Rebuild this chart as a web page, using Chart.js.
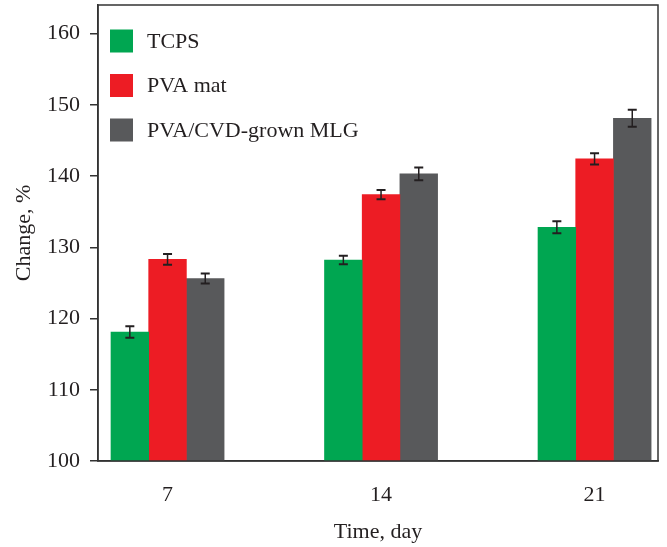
<!DOCTYPE html>
<html>
<head>
<meta charset="utf-8">
<script src="https://cdn.jsdelivr.net/npm/chart.js@4"></script>
<style>
  html, body { margin: 0; padding: 0; background: #fff; }
  #wrap { width: 667px; height: 547px; }
</style>
</head>
<body>
<div id="wrap"><canvas id="chart" width="667" height="547"></canvas></div>
<script>
// values
const days = [7, 14, 21];
const tcps = [118.1, 128.2, 132.8];
const tcpsErr = [0.8, 0.6, 0.85];
const pvaMat = [128.3, 137.4, 142.4];
const pvaMatErr = [0.75, 0.65, 0.8];
const mlg = [125.6, 140.3, 148.1];
const mlgErr = [0.7, 0.9, 1.2];
const yTicks = [100, 110, 120, 130, 140, 150, 160];

const FONT = "'Liberation Serif', 'DejaVu Serif', serif";
const INK = '#231f20';

function pts(vals) {
    return vals.map((v, i) => ({ x: days[i], y: v }));
}

// drop the half-label padding chart.js adds at the axis ends
function noEndPad(s) {
    s.paddingTop = 0; s.paddingBottom = 0;
    s.paddingLeft = 0; s.paddingRight = 0;
}

// error bars + frame + legend drawn on top
const extras = {
    id: 'extras',
    afterDatasetsDraw(chart) {
        const ctx = chart.ctx;
        const ys = chart.scales.y;
        ctx.save();
        ctx.strokeStyle = INK;
        chart.data.datasets.forEach((ds, i) => {
            const meta = chart.getDatasetMeta(i);
            meta.data.forEach((bar, j) => {
                const v = ds.data[j].y, e = ds.err[j];
                const x = bar.x;
                const y1 = ys.getPixelForValue(v + e), y2 = ys.getPixelForValue(v - e);
                ctx.lineWidth = 1.5;
                ctx.beginPath(); ctx.moveTo(x, y1); ctx.lineTo(x, y2); ctx.stroke();
                ctx.lineWidth = 2;
                ctx.beginPath();
                ctx.moveTo(x - 4.5, y1); ctx.lineTo(x + 4.5, y1);
                ctx.moveTo(x - 4.5, y2); ctx.lineTo(x + 4.5, y2);
                ctx.stroke();
            });
        });
        // box frame
        const a = chart.chartArea;
        ctx.strokeStyle = '#333';
        ctx.lineWidth = 1.5;
        ctx.strokeRect(a.left, a.top, a.right - a.left, a.bottom - a.top);
        // legend
        ctx.font = '22px ' + FONT;
        ctx.textBaseline = 'middle';
        chart.data.datasets.forEach((ds, i) => {
            const cy = 41 + i * 44.5;
            ctx.fillStyle = ds.backgroundColor;
            ctx.fillRect(110, cy - 11.5, 23, 23);
            ctx.fillStyle = INK;
            ctx.fillText(ds.label, 147, cy + 1);
        });
        ctx.restore();
    }
};

new Chart(document.getElementById('chart'), {
    type: 'bar',
    data: {
        datasets: [
            { label: 'TCPS', data: pts(tcps), err: tcpsErr, backgroundColor: '#00a651' },
            { label: 'PVA mat', data: pts(pvaMat), err: pvaMatErr, backgroundColor: '#ed1c24' },
            { label: 'PVA/CVD-grown MLG', data: pts(mlg), err: mlgErr, backgroundColor: '#58595b' }
        ]
    },
    options: {
        responsive: false,
        animation: false,
        barThickness: 37.7,
        layout: { padding: { top: 5, right: 9, left: 0, bottom: 0 } },
        plugins: { legend: { display: false }, tooltip: { enabled: false } },
        scales: {
            x: {
                type: 'linear',
                offset: false,
                min: 4.72,
                max: 23.08,
                afterBuildTicks: (s) => { s.ticks = days.map(d => ({ value: d })); },
                afterFit: (s) => { s.height = 86; noEndPad(s); },
                grid: { display: false, drawTicks: false },
                border: { display: true, color: '#333', width: 1.5 },
                ticks: { color: INK, font: { family: FONT, size: 22 }, padding: 21 },
                title: { display: true, text: 'Time, day', color: INK, font: { family: FONT, size: 22 }, padding: { top: 0, bottom: 2 } }
            },
            y: {
                min: 100,
                max: 164,
                afterBuildTicks: (s) => { s.ticks = yTicks.map(v => ({ value: v })); },
                afterFit: (s) => { s.width = 98; noEndPad(s); },
                grid: { drawOnChartArea: false, drawTicks: true, tickLength: 8, color: '#333', lineWidth: 1.5 },
                border: { display: true, color: '#333', width: 1.5 },
                ticks: { color: INK, font: { family: FONT, size: 22 }, padding: 10 },
                title: { display: true, text: 'Change, %', color: INK, font: { family: FONT, size: 22 }, padding: { top: 11, bottom: 0 } }
            }
        }
    },
    plugins: [extras]
});
</script>
</body>
</html>
